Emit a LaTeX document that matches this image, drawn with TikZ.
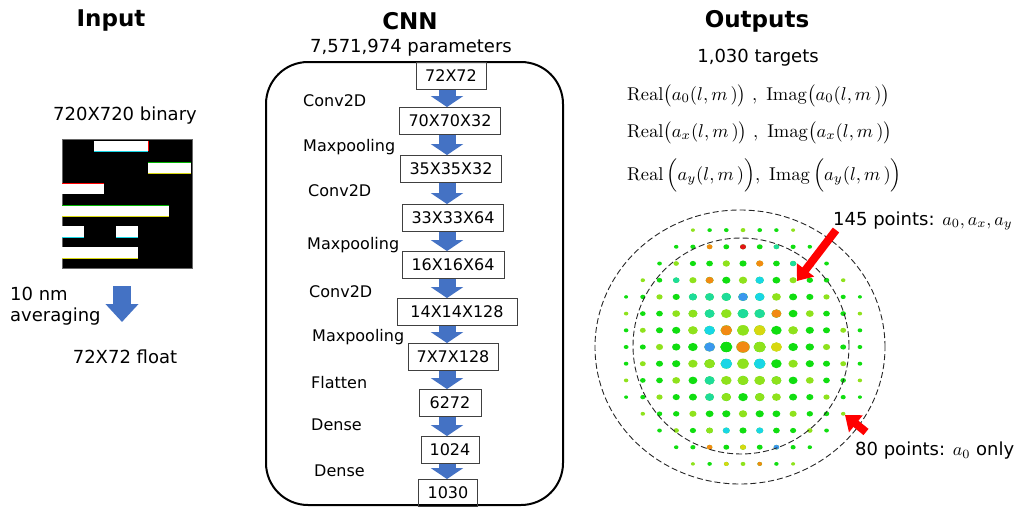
\RequirePackage{fix-cm}
\documentclass[tikz,border=0pt]{standalone}
\usepackage[no-math]{fontspec}
\setmainfont{DejaVu Sans}
\usepackage{graphicx}
\usepackage{tikz}
\usetikzlibrary{arrows.meta,positioning}
\definecolor{cBlue}{HTML}{4472C4}
\definecolor{cRed}{HTML}{FF0000}
\definecolor{cG}{HTML}{10DE10}
\definecolor{cL}{HTML}{8FE21C}
\definecolor{cT}{HTML}{1EDC9A}
\definecolor{cC}{HTML}{18D6E6}
\definecolor{cB}{HTML}{3A98EE}
\definecolor{cO}{HTML}{F28A12}
\definecolor{cY}{HTML}{D8D810}
\definecolor{cR}{HTML}{E41414}
\newcommand{\bigmath}[2][1.85]{\scalebox{#1}{\normalsize$#2$}}

\begin{document}
\begin{tikzpicture}[x=1pt, y=-1pt,
    title/.style={font=\fontsize{23}{26}\selectfont\bfseries, inner sep=0pt},
    txt/.style={font=\fontsize{18}{21}\selectfont, inner sep=0pt},
    lyr/.style={font=\fontsize{16}{19}\selectfont, inner sep=0pt, anchor=west},
    shp/.style={rectangle, draw=black!75, line width=0.9pt, minimum height=27pt, font=\fontsize{16}{19}\selectfont, inner sep=1pt},
    eqn/.style={font=\fontsize{19}{22}\selectfont, inner sep=0pt, anchor=base west},
    blk/.style={-{Triangle[width=32pt,length=11pt]}, line width=17pt, cBlue},
    redarr/.style={-{Triangle[width=21pt,length=14pt]}, line width=8pt, cRed},
    ring/.style={draw=black!85, line width=0.9pt, dash pattern=on 6pt off 3pt},
]
\useasboundingbox (0,0) rectangle (1019,506);

\def\gap{16.7}

% Input
\node[title] (tIn) at (111,21) {Input};
\node[txt] (bin) at (125,116) {720X720 binary};
\fill[black] (62,139) rectangle (192,268);
\draw[black!60, line width=0.8pt] (62,139) rectangle (192,268);
\fill[white] (94,141) rectangle (148,151);
\fill[white] (148,162) rectangle (191,173);
\fill[white] (62,183) rectangle (104,194);
\fill[white] (62,205) rectangle (169,216);
\fill[white] (62,226) rectangle (84,237);
\fill[white] (116,226) rectangle (138,237);
\fill[white] (62,247) rectangle (138,258);
\draw[cRed, line width=0.6pt] (148,141) -- (148,151);
\draw[cC, line width=0.6pt] (94,151) -- (148,151);
\draw[green!70!black, line width=0.6pt] (148,162) -- (191,162);
\draw[cY, line width=0.6pt] (148,173) -- (191,173);
\draw[cRed, line width=0.6pt] (62,183) -- (104,183);
\draw[green!70!black, line width=0.6pt] (62,205) -- (169,205);
\draw[cY, line width=0.6pt] (62,216) -- (169,216);
\draw[cC, line width=0.6pt] (62,237) -- (84,237) (116,237) -- (138,237);
\draw[cY, line width=0.6pt] (62,258) -- (138,258);
\node[txt, align=left, anchor=west] (avg) at (10,306) {10 nm\\averaging};
\coordinate (inA) at (122,286);
\coordinate (inB) at (122,322);
\draw[-{Triangle[width=32pt,length=18pt]}, line width=18pt, cBlue] (inA) -- (inB);
\node[txt] (flt) at (125,357) {72X72 float};

% CNN
\node[title] (tCnn) at (410,21) {CNN};
\node[txt] (par) at (411,48) {7,571,974 parameters};
\draw[black, line width=2pt, rounded corners=42pt] (266,62) rectangle (563,505);
\coordinate (axis) at (447,0);

\node[shp, minimum width=70pt]  (b1)  at (451,76)  {72X72};
\node[shp, minimum width=101pt] (b2)  at (450,121) {70X70X32};
\node[shp, minimum width=101pt] (b3)  at (451,169) {35X35X32};
\node[shp, minimum width=101pt] (b4)  at (453,218) {33X33X64};
\node[shp, minimum width=102pt] (b5)  at (453,265) {16X16X64};
\node[shp, minimum width=120pt] (b6)  at (457,312) {14X14X128};
\node[shp, minimum width=90pt]  (b7)  at (453,357) {7X7X128};
\node[shp, minimum width=62pt]  (b8)  at (450,403) {6272};
\node[shp, minimum width=58pt]  (b9)  at (450,450) {1024};
\node[shp, minimum width=59pt]  (b10) at (448,493) {1030};

\foreach \a/\b in {b1/b2,b2/b3,b3/b4,b4/b5,b5/b6,b6/b7,b7/b8,b8/b9,b9/b10}
  \draw[blk] (\a.south -| axis) -- (\b.north -| axis);

\node[lyr] (l1) at (303,101) {Conv2D};
\node[lyr] (l2) at (303,147) {Maxpooling};
\node[lyr] (l3) at (308,191) {Conv2D};
\node[lyr] (l4) at (307,245) {Maxpooling};
\node[lyr] (l5) at (309,292) {Conv2D};
\node[lyr] (l6) at (312,337) {Maxpooling};
\node[lyr] (l7) at (311,383) {Flatten};
\node[lyr] (l8) at (311,425) {Dense};
\node[lyr] (l9) at (314,471) {Dense};

% Outputs
\node[title] (tOut) at (757,21) {Outputs};
\node[txt] (tgt) at (758,58) {1,030 targets};
\node[eqn] (e1) at (627,100) {\bigmath{\mathrm{Real}\bigl(a_0(l,m\,)\bigr)\ ,\ \mathrm{Imag}\bigl(a_0(l,m\,)\bigr)}};
\node[eqn] (e2) at (627,137) {\bigmath{\mathrm{Real}\bigl(a_x(l,m\,)\bigr)\ ,\ \mathrm{Imag}\bigl(a_x(l,m\,)\bigr)}};
\node[eqn] (e3) at (627,180) {\bigmath{\mathrm{Real}\,\Bigl(a_y(l,m\,)\Bigr),\ \mathrm{Imag}\,\Bigl(a_y(l,m\,)\Bigr)}};

% dot grid
\foreach \i in {-7,...,7}{
  \foreach \j in {-7,...,7}{
    \pgfmathsetmacro\dd{sqrt(\i*\i+\j*\j)}
    \pgfmathtruncatemacro\ok{\dd<7.7 ? 1 : 0}
    \ifnum\ok=1
      \pgfmathsetmacro\rr{max(1.4,6.6-0.6*\dd)}
      \pgfmathtruncatemacro\pp{mod(abs(\i)+2*abs(\j)+7,3)}
      \ifnum\pp=0 \def\dc{cL}\else\def\dc{cG}\fi
      \fill[\dc] (743+\gap*\i,347+\gap*\j) ellipse[x radius=\rr pt, y radius=0.85*\rr pt];
    \fi
  }
}
\foreach \i/\j/\c in {0/-6/cR,-2/-6/cO,2/-6/cT,
    1/-5/cO,3/-5/cT,-1/-5/cL,
    -4/-4/cT,-2/-4/cO,1/-4/cC,
    -3/-3/cT,-2/-3/cT,-1/-3/cT,0/-3/cB,1/-3/cC,
    -3/-2/cL,-2/-2/cT,0/-2/cT,1/-2/cT,2/-2/cO,
    -3/-1/cL,-2/-1/cC,-1/-1/cO,0/-1/cL,1/-1/cY,3/-1/cL,
    -2/0/cB,-1/0/cG,0/0/cO,1/0/cL,2/0/cY,
    -2/1/cL,-1/1/cC,1/1/cC,
    -2/2/cT,0/2/cL,1/2/cL,2/2/cL,
    -2/3/cT,-1/3/cL,1/3/cL,
    -2/5/cL,-1/5/cC,1/5/cC,
    -2/6/cO,0/6/cY,2/6/cB,
    -1/7/cY,1/7/cO}{
  \pgfmathsetmacro\dd{sqrt(\i*\i+\j*\j)}
  \pgfmathsetmacro\rr{max(1.4,6.6-0.6*\dd)}
  \fill[\c] (743+\gap*\i,347+\gap*\j) ellipse[x radius=\rr pt, y radius=0.85*\rr pt];
}

\draw[ring] (740,347) ellipse[x radius=145pt, y radius=137pt];
\draw[ring] (741,346) circle[radius=108pt];

\node[txt, anchor=west] (p145) at (833,221) {145 points: \bigmath[1.8]{a_0,a_x,a_y}};
\node[txt, anchor=west] (p80) at (855,451) {80 points: \bigmath[1.8]{a_0} only};
\coordinate (tailA) at (836,230);
\coordinate (tipA) at (797,281);
\coordinate (tailB) at (866,432);
\coordinate (tipB) at (845,415);
\draw[redarr] (tailA) -- (tipA);
\draw[redarr] (tailB) -- (tipB);

\end{tikzpicture}
\end{document}
